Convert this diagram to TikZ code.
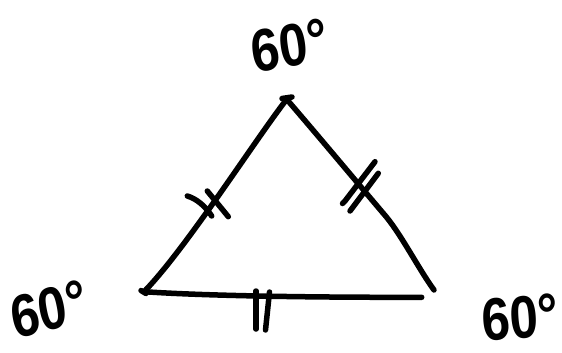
\documentclass[tikz,border=0pt]{standalone}
\usepackage{fontspec}
\setmainfont{Liberation Sans}
\begin{document}
\begin{tikzpicture}[x=1pt,y=-1pt,
  pen/.style={line width=5.5pt,line cap=round,line join=round,black},
  anglelabel/.style={inner sep=0pt,anchor=base west,xscale=0.85,
    font=\fontsize{60}{60}\selectfont\bfseries}]
\useasboundingbox (0,0) rectangle (562,353);
% vertices
\coordinate (apex) at (286.7,99.3);
\coordinate (left) at (144,291.7);
\coordinate (bend) at (383,213);
\coordinate (right) at (434,290);
\coordinate (bottomend) at (421.7,297.3);
% sides
\draw[pen] (apex) .. controls (255,140) and (185,250) .. (left);
\draw[pen] (apex) .. controls (320,138) and (355,180) .. (bend)
                  .. controls (400,232) and (418,268) .. (right);
\draw[pen] (left) .. controls (200,295.5) and (300,297.5) .. (bottomend);
% pen marks at the vertices
\draw[pen] (282,98.5) -- (292,97);
\draw[pen] (141,290.5) -- (146,293.5);
% tick marks on the left side
\draw[pen] (187.3,196) .. controls (197,199) and (205,206) .. (211.7,216);
\draw[pen] (207.3,191) -- (228.3,216.7);
% tick marks on the right side
\draw[pen] (375,161.7) -- (345,201) .. controls (344,202) and (343.3,203) .. (342.5,203.5);
\draw[pen] (378.3,173.3) -- (350,211);
% tick marks on the bottom side
\draw[pen] (256,291) -- (256,329);
\draw[pen] (269.5,292) -- (265.5,330);
% angle labels
\node[anglelabel,rotate=10] (ltop) at (254,74) {60°};
\node[anglelabel,rotate=13] (lleft) at (15,340) {60°};
\node[anglelabel,rotate=5] (lright) at (483,342) {60°};
\end{tikzpicture}
\end{document}
